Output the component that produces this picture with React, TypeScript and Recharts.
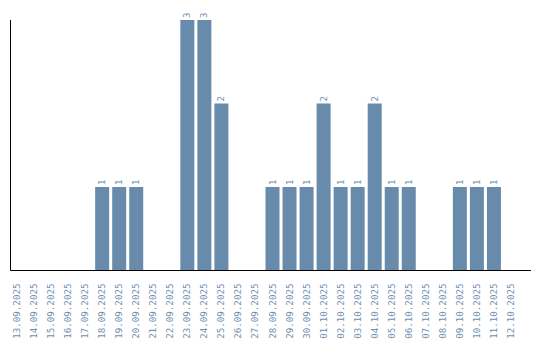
import React from 'react';
import { BarChart, Bar, XAxis, YAxis, LabelList } from 'recharts';

const dates = [
  '13.09.2025', '14.09.2025', '15.09.2025', '16.09.2025', '17.09.2025',
  '18.09.2025', '19.09.2025', '20.09.2025', '21.09.2025', '22.09.2025',
  '23.09.2025', '24.09.2025', '25.09.2025', '26.09.2025', '27.09.2025',
  '28.09.2025', '29.09.2025', '30.09.2025', '01.10.2025', '02.10.2025',
  '03.10.2025', '04.10.2025', '05.10.2025', '06.10.2025', '07.10.2025',
  '08.10.2025', '09.10.2025', '10.10.2025', '11.10.2025', '12.10.2025',
];
const counts = [
  0, 0, 0, 0, 0,
  1, 1, 1, 0, 0,
  3, 3, 2, 0, 0,
  1, 1, 1, 2, 1,
  1, 2, 1, 1, 0,
  0, 1, 1, 1, 0,
];

const data = dates.map((date, i) => ({ date, count: counts[i] }));

const barColor = '#698bab';
const textColor = '#6f8fb0';
const mono = '"DejaVu Sans Mono", monospace';

function DateTick({ x, y, payload }: any) {
  return (
    <text
      x={0}
      y={0}
      transform={`translate(${x}, ${y + 5}) rotate(-90)`}
      textAnchor="end"
      dominantBaseline="central"
      fill={textColor}
      fontSize={9.2}
      fontFamily={mono}
    >
      {payload.value}
    </text>
  );
}

function ValueLabel({ x, y, width, value }: any) {
  if (!value) return null;
  const cx = x + width / 2;
  return (
    <text
      x={0}
      y={0}
      transform={`translate(${cx}, ${y - 2}) rotate(-90)`}
      textAnchor="start"
      dominantBaseline="central"
      fill={textColor}
      fontSize={9}
      fontFamily={mono}
    >
      {value}
    </text>
  );
}

export default function App() {
  return (
    <BarChart
      width={532}
      height={332}
      data={data}
      margin={{ top: 12, right: 9, bottom: 0, left: 1.5 }}
      barSize={14}
    >
      <XAxis
        dataKey="date"
        interval={0}
        height={69.5}
        tickLine={false}
        axisLine={{ stroke: '#000' }}
        tick={<DateTick />}
        padding={{ left: -2.5, right: 12 }}
      />
      <YAxis
        width={1}
        domain={[0, 3]}
        tick={false}
        tickLine={false}
        axisLine={{ stroke: '#000' }}
      />
      <Bar dataKey="count" fill={barColor} isAnimationActive={false}>
        <LabelList dataKey="count" content={<ValueLabel />} />
      </Bar>
    </BarChart>
  );
}
